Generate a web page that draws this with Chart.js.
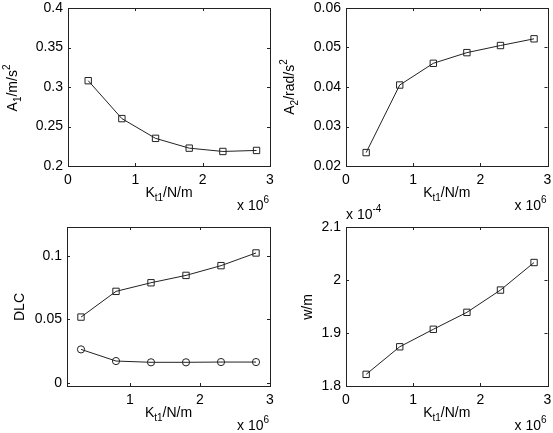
<!DOCTYPE html>
<html>
<head>
<meta charset="utf-8">
<script src="https://cdn.jsdelivr.net/npm/chart.js@4.4.0/dist/chart.umd.min.js"></script>
<style>
  html, body { margin: 0; padding: 0; background: #fff; }
  #wrap { position: relative; width: 553px; height: 433px; }
  #wrap canvas { position: absolute; left: 0; top: 0; }
</style>
</head>
<body>
<div id="wrap">
  <canvas id="c1" width="553" height="433"></canvas>
  <canvas id="c2" width="553" height="433"></canvas>
  <canvas id="c3" width="553" height="433"></canvas>
  <canvas id="c4" width="553" height="433"></canvas>
</div>
<script>
// stiffness K_t1 (x 10^6 N/m)
const kt = [0.3, 0.8, 1.3, 1.8, 2.3, 2.8];

// responses
const a1 = [0.308, 0.260, 0.235, 0.2226, 0.2184, 0.2197];
const a2 = [0.0234, 0.0405, 0.0460, 0.0487, 0.0505, 0.0522];
const dlcSquare = [0.0518, 0.0721, 0.0789, 0.0847, 0.0924, 0.1024];
const dlcCircle = [0.0263, 0.0171, 0.0161, 0.0161, 0.0163, 0.0163];
const wm = [1.822, 1.874, 1.907, 1.939, 1.981, 2.033]; // x 10^-4

// ticks
const xTicks = [0, 1, 2, 3];
const xTicksDlc = [1, 2, 3];
const yTicksA1 = [0.2, 0.25, 0.3, 0.35, 0.4];
const yTicksA2 = [0.02, 0.03, 0.04, 0.05, 0.06];
const yTicksDlc = [0, 0.05, 0.1];
const yTicksW = [1.8, 1.9, 2, 2.1];

const W = 553, H = 433;
const FONT = "'Liberation Sans', Arial, Helvetica, sans-serif";
const INK = '#222';

// draws text made of normal / sub / sup pieces around (x, y)
const richText = (ctx, parts, x, y, rot, align) => {
    ctx.save();
    ctx.translate(x, y);
    if (rot) ctx.rotate(rot);
    ctx.fillStyle = '#000';
    ctx.textBaseline = 'middle';
    ctx.textAlign = 'left';
    let total = 0;
    parts.forEach(p => {
        ctx.font = (p[1] ? '10px ' : '14px ') + FONT;
        total += ctx.measureText(p[0]).width;
    });
    let cx = align === 'left' ? 0 : -total / 2;
    parts.forEach(p => {
        ctx.font = (p[1] ? '10px ' : '14px ') + FONT;
        let dy = 0;
        if (p[1] === 'sub') dy = 5;
        if (p[1] === 'sup') dy = -6;
        ctx.fillText(p[0], cx, dy);
        cx += ctx.measureText(p[0]).width;
    });
    ctx.restore();
};

const framePlugin = {
    id: 'frame',
    afterDraw(chart, args, opts) {
        const ctx = chart.ctx;
        const a = chart.chartArea;
        ctx.save();
        ctx.strokeStyle = INK;
        ctx.lineWidth = 1;
        ctx.strokeRect(Math.round(a.left) + 0.5, Math.round(a.top) + 0.5,
            Math.round(a.right - a.left), Math.round(a.bottom - a.top));
        ctx.beginPath();
        chart.scales.x.ticks.forEach(t => {
            const px = Math.round(chart.scales.x.getPixelForValue(t.value)) + 0.5;
            ctx.moveTo(px, a.bottom); ctx.lineTo(px, a.bottom - 3);
            ctx.moveTo(px, a.top); ctx.lineTo(px, a.top + 3);
        });
        chart.scales.y.ticks.forEach(t => {
            const py = Math.round(chart.scales.y.getPixelForValue(t.value)) + 0.5;
            ctx.moveTo(a.left, py); ctx.lineTo(a.left + 3, py);
            ctx.moveTo(a.right, py); ctx.lineTo(a.right - 3, py);
        });
        ctx.stroke();
        ctx.restore();

        const cxm = (a.left + a.right) / 2;
        richText(ctx, [['K', ''], ['t1', 'sub'], ['/N/m', '']], cxm, a.bottom + 27, 0);
        richText(ctx, [['x 10', ''], ['6', 'sup']], a.right - 33, a.bottom + 40, 0, 'left');
        richText(ctx, opts.yTitle, opts.yTitleX, opts.yTitleY, -Math.PI / 2);
        if (opts.expo) richText(ctx, opts.expo, a.left, a.top - 12, 0, 'left');
    }
};

const makePanel = (id, box, xr, yr, xt, yt, datasets, frame) => {
    new Chart(document.getElementById(id), {
        type: 'line',
        data: {
            datasets: datasets.map(d => ({
                data: kt.map((k, i) => ({ x: k, y: d.values[i] })),
                borderColor: INK,
                borderWidth: 1,
                backgroundColor: 'rgba(0,0,0,0)',
                pointStyle: d.style,
                pointRadius: d.style === 'rect' ? 4.5 : 3.6,
                pointBorderColor: INK,
                pointBorderWidth: 1,
                pointBackgroundColor: 'rgba(0,0,0,0)',
                tension: 0,
                clip: false
            }))
        },
        options: {
            responsive: false,
            animation: false,
            events: [],
            layout: {
                padding: { left: 0, top: box[2], right: W - box[1], bottom: 0 }
            },
            plugins: { legend: { display: false }, tooltip: { enabled: false }, frame: frame },
            scales: {
                x: {
                    type: 'linear', min: xr[0], max: xr[1],
                    afterFit: s => { s.height = H - box[3]; s.paddingLeft = 0; s.paddingRight = 0; },
                    afterBuildTicks: s => { s.ticks = xt.map(v => ({ value: v })); },
                    grid: { display: false, drawTicks: false },
                    border: { display: false },
                    ticks: { padding: 6, autoSkip: false, color: '#000', font: { family: FONT, size: 14 },
                        maxRotation: 0, callback: v => String(v) }
                },
                y: {
                    type: 'linear', min: yr[0], max: yr[1],
                    afterFit: s => { s.width = box[0]; s.paddingTop = 0; s.paddingBottom = 0; },
                    afterBuildTicks: s => { s.ticks = yt.map(v => ({ value: v })); },
                    grid: { display: false, drawTicks: false },
                    border: { display: false },
                    ticks: { padding: 5, autoSkip: false, color: '#000', font: { family: FONT, size: 14 },
                        callback: v => String(v) }
                }
            }
        },
        plugins: [framePlugin]
    });
};

makePanel('c1', [68, 270, 8, 166], [0, 3], [0.2, 0.4], xTicks, yTicksA1,
    [{ values: a1, style: 'rect' }],
    { yTitle: [['A', ''], ['1', 'sub'], ['/m/s', ''], ['2', 'sup']], yTitleX: 13, yTitleY: 88 });

makePanel('c2', [346, 550, 8, 166], [0, 3], [0.02, 0.06], xTicks, yTicksA2,
    [{ values: a2, style: 'rect' }],
    { yTitle: [['A', ''], ['2', 'sub'], ['/rad/s', ''], ['2', 'sup']], yTitleX: 290, yTitleY: 87 });

makePanel('c3', [67, 270, 227, 386], [0.1, 3], [-0.0026, 0.1229], xTicksDlc, yTicksDlc,
    [{ values: dlcSquare, style: 'rect' }, { values: dlcCircle, style: 'circle' }],
    { yTitle: [['DLC', '']], yTitleX: 20, yTitleY: 307 });

makePanel('c4', [346, 550, 227, 386], [0, 3], [1.8, 2.1], xTicks, yTicksW,
    [{ values: wm, style: 'rect' }],
    { yTitle: [['w/m', '']], yTitleX: 308, yTitleY: 307,
      expo: [['x 10', ''], ['-4', 'sup']] });
</script>
</body>
</html>
